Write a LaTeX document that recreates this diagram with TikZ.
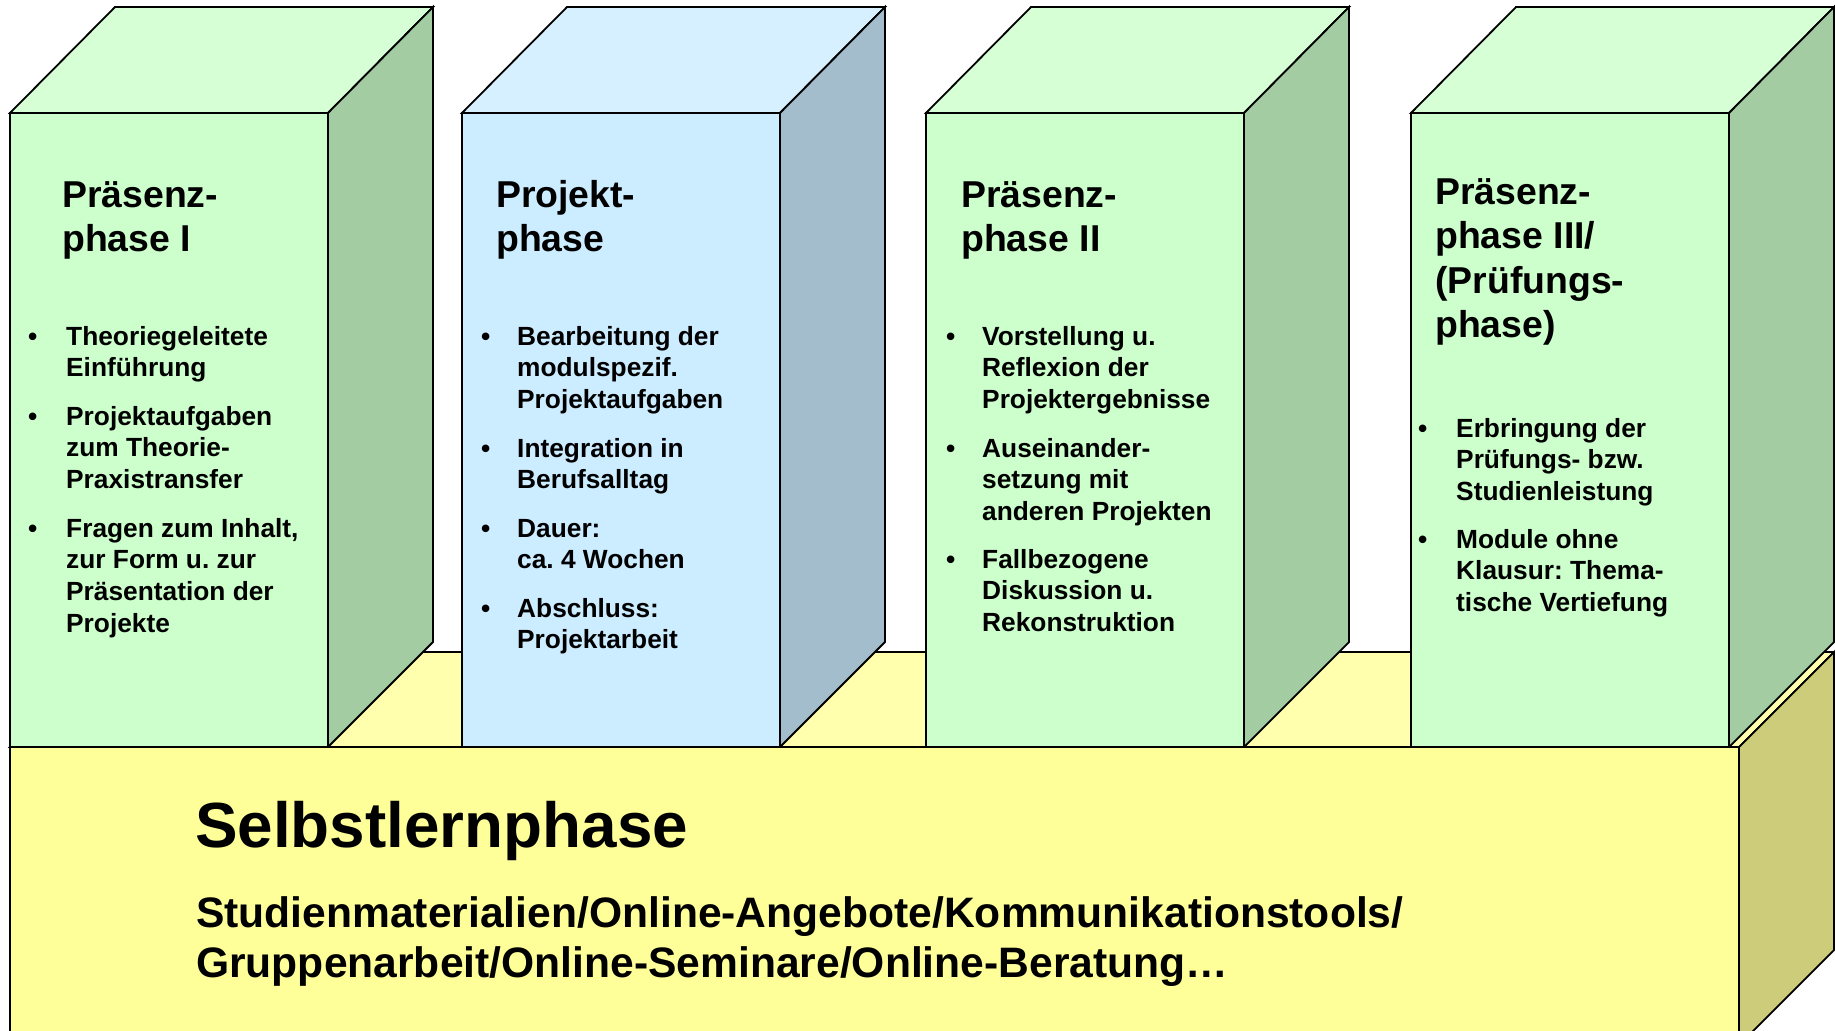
\documentclass[tikz,border=0pt]{standalone}
\usepackage{fontspec}
\setmainfont{Liberation Sans}
\frenchspacing
\definecolor{gfront}{RGB}{204,255,204}
\definecolor{gtop}{RGB}{214,255,214}
\definecolor{gside}{RGB}{163,204,163}
\definecolor{bfront}{RGB}{204,236,255}
\definecolor{btop}{RGB}{214,240,255}
\definecolor{bside}{RGB}{163,189,204}
\definecolor{yfront}{RGB}{255,255,153}
\definecolor{ytop}{RGB}{255,255,173}
\definecolor{yside}{RGB}{204,204,122}
\newcommand\phasebox[4]{%
  \filldraw[face,fill=#2] (#1,113) rectangle ({#1+318},747);
  \filldraw[face,fill=#3] (#1,113) -- ({#1+105},7) -- ({#1+423},7) -- ({#1+318},113) -- cycle;
  \filldraw[face,fill=#4] ({#1+318},113) -- ({#1+423},7) -- ({#1+423},642) -- ({#1+318},747) -- cycle;
}
\begin{document}
\begin{tikzpicture}[x=1pt,y=-1pt,
  face/.style={draw=black,line width=1.8pt},
  ttl/.style={anchor=base west,inner sep=0pt,align=left,font=\bfseries\fontsize{37.4}{44.5}\selectfont\frenchspacing},
  itm/.style={anchor=base west,inner sep=0pt,align=left,font=\bfseries\fontsize{26.3}{31.7}\selectfont\frenchspacing},
  bul/.style={anchor=base west,inner sep=0pt,font=\bfseries\fontsize{26.3}{31.7}\selectfont}]
\useasboundingbox (0,0) rectangle (1835,1030);
\clip (0,0) rectangle (1835,1030);
\fill[white] (0,0) rectangle (1835,1030);
% base top face
\filldraw[face,fill=ytop] (10,747) -- (105,652) -- (1834,652) -- (1739,747) -- cycle;
% phase blocks
\phasebox{10}{gfront}{gtop}{gside}
\phasebox{462}{bfront}{btop}{bside}
\phasebox{926}{gfront}{gtop}{gside}
\phasebox{1411}{gfront}{gtop}{gside}
% base front and side
\filldraw[face,fill=yfront] (10,747) rectangle (1739,1045);
\filldraw[face,fill=yside] (1739,747) -- (1834,652) -- (1834,950) -- (1739,1045) -- cycle;

% block 1 (multi-line nodes are anchored at the baseline of their last line)
\node[ttl] (t1) at (62,251.5) {Präsenz-\\phase I};
\node[bul] (b1a) at (28,345) {•};
\node[itm] (i1a) at (66,376.7) {Theoriegeleitete\\Einführung};
\node[bul] (b1b) at (28,425) {•};
\node[itm] (i1b) at (66,488.4) {Projektaufgaben\\zum Theorie-\\Praxistransfer};
\node[bul] (b1c) at (28,537) {•};
\node[itm] (i1c) at (66,632.1) {Fragen zum Inhalt,\\zur Form u. zur\\Präsentation der\\Projekte};

% block 2
\node[ttl] (t2) at (496,251.5) {Projekt-\\phase};
\node[bul] (b2a) at (481,345) {•};
\node[itm] (i2a) at (517,408.4) {Bearbeitung der\\modulspezif.\\Projektaufgaben};
\node[bul] (b2b) at (481,457) {•};
\node[itm] (i2b) at (517,488.7) {Integration in\\Berufsalltag};
\node[bul] (b2c) at (481,537) {•};
\node[itm] (i2c) at (517,568.7) {Dauer:\\ca. 4 Wochen};
\node[bul] (b2d) at (481,617) {•};
\node[itm] (i2d) at (517,648.7) {Abschluss:\\Projektarbeit};

% block 3
\node[ttl] (t3) at (961,251.5) {Präsenz-\\phase II};
\node[bul] (b3a) at (946,345) {•};
\node[itm] (i3a) at (982,408.4) {Vorstellung u.\\Reflexion der\\Projektergebnisse};
\node[bul] (b3b) at (946,457) {•};
\node[itm] (i3b) at (982,520.4) {Auseinander-\\setzung mit\\anderen Projekten};
\node[bul] (b3c) at (946,568) {•};
\node[itm] (i3c) at (982,631.4) {Fallbezogene\\Diskussion u.\\Rekonstruktion};

% block 4
\node[ttl] (t4) at (1435,337.5) {Präsenz-\\phase III/\\(Prüfungs-\\phase)};
\node[bul] (b4a) at (1418,437) {•};
\node[itm] (i4a) at (1456,500.4) {Erbringung der\\Prüfungs- bzw.\\Studienleistung};
\node[bul] (b4b) at (1418,548) {•};
\node[itm] (i4b) at (1456,611.4) {Module ohne\\Klausur: Thema-\\tische Vertiefung};

% base texts
\node[anchor=base west,inner sep=0pt,font=\bfseries\fontsize{63.8}{70}\selectfont] (sl) at (195,847) {Selbstlernphase};
\node[anchor=base west,inner sep=0pt,align=left,font=\bfseries\fontsize{42.6}{50}\selectfont\frenchspacing] (sm) at (196,977) {Studienmaterialien/Online-Angebote/Kommunikationstools/\\Gruppenarbeit/Online-Seminare/Online-Beratung…};
\end{tikzpicture}
\end{document}
